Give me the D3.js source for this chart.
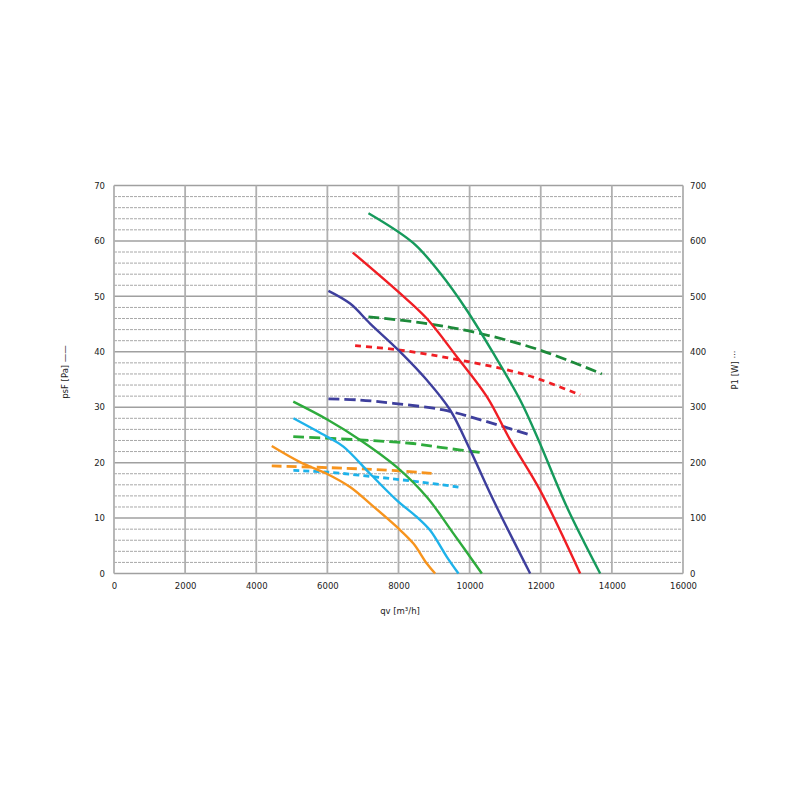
<!DOCTYPE html>
<html><head><meta charset="utf-8">
<script src="https://cdn.jsdelivr.net/npm/d3@7"></script>
<style>body{margin:0;background:#fff}svg{display:block}</style>
</head><body><svg id="c" width="800" height="800"></svg>
<script>
// Flow (m³/h) ticks and axes
const xTicks = [0,2000,4000,6000,8000,10000,12000,14000,16000];
const yLeftTicks = [0,10,20,30,40,50,60,70];
const yRightTicks = [0,100,200,300,400,500,600,700];

// Pressure curves psF [Pa] : [qv, psF]
const darkGreenP = [[7155,65.0],[8420,59.6],[9170,54.2],[9921,47.5],[10670,39.7],[11421,31.3],[11936,24.1],[12734,12.0],[13671,0]];
const redP = [[6714,57.9],[7998,50.8],[8796,46.0],[9640,39.1],[10484,31.9],[11140,24.1],[11983,15.0],[13108,0]];
const blueP = [[6029,51.0],[6639,48.7],[7201,45.1],[7998,40.3],[8796,34.9],[9452,29.5],[10015,22.3],[10670,13.2],[11702,0]];
const greenP = [[5041,31.0],[6019,27.7],[6920,24.1],[7953,19.2],[8796,13.8],[9546,7.2],[10343,0]];
const cyanP = [[5044,28.0],[5983,24.7],[6451,22.9],[7201,18.0],[7953,13.2],[8515,10.2],[8889,7.8],[9358,3.0],[9686,0]];
const orangeP = [[4436,23.0],[5232,20.1],[5983,18.0],[6639,15.6],[7201,12.6],[7953,8.4],[8420,5.4],[8796,1.8],[9030,0]];

// Power curves P1 [W] : [qv, P1]
const darkGreenW = [[7155,463],[8796,451],[10296,433],[11983,403],[13719,360]];
const redW = [[6780,411],[8045,403],[9733,385],[11608,358],[13108,322]];
const blueW = [[6029,315],[6920,313],[7857,307],[9264,295],[10484,274],[11702,250]];
const greenW = [[5041,247],[6920,241],[8327,235],[9358,226],[10343,218]];
const orangeW = [[4436,194],[6451,190],[8045,185],[9030,180]];
const cyanW = [[5044,186],[5983,183],[7389,174],[8608,165],[9686,156]];

const series = [
  {p:darkGreenP, w:darkGreenW, c:"#169a5c", cw:"#1d8a3a", dash:"11,5"},
  {p:redP, w:redW, c:"#f01e24", cw:"#f01e24", dash:"6,5"},
  {p:blueP, w:blueW, c:"#3e3f9d", cw:"#3e3f9d", dash:"11,5"},
  {p:greenP, w:greenW, c:"#2eab3c", cw:"#2eab3c", dash:"11,5"},
  {p:cyanP, w:cyanW, c:"#1eb2ea", cw:"#1eb2ea", dash:"6,4"},
  {p:orangeP, w:orangeW, c:"#f7941d", cw:"#f7941d", dash:"10,5"}
];

const L=114, R=683, T=185.5, B=573.5;
const svg = d3.select("#c");
const x = d3.scaleLinear().domain([0,16000]).range([L,R]);
const yL = d3.scaleLinear().domain([0,70]).range([B,T]);
const yR = d3.scaleLinear().domain([0,700]).range([B,T]);
const font = "'DejaVu Sans', Verdana, sans-serif";

// minor horizontal dashed grid (every 2 Pa)
const minor = d3.range(0,70.01,2).filter(v=>v%10!==0);
svg.append("g").selectAll("line").data(minor).join("line")
  .attr("x1",L).attr("x2",R).attr("y1",d=>yL(d)).attr("y2",d=>yL(d))
  .attr("stroke","#a8a8a8").attr("stroke-width",1).attr("stroke-dasharray","3,1");

// major grid
svg.append("g").selectAll("line").data(yLeftTicks).join("line")
  .attr("x1",L).attr("x2",R).attr("y1",d=>yL(d)).attr("y2",d=>yL(d))
  .attr("stroke","#a0a0a0").attr("stroke-width",1.5);
svg.append("g").selectAll("line").data(xTicks).join("line")
  .attr("x1",d=>x(d)).attr("x2",d=>x(d)).attr("y1",T).attr("y2",B)
  .attr("stroke","#b0b0b0").attr("stroke-width",1.8);

// axes (labels only)
const axB = svg.append("g").attr("transform",`translate(0,${B})`)
  .call(d3.axisBottom(x).tickValues(xTicks).tickSize(0).tickPadding(9).tickFormat(d3.format("d")));
const axL = svg.append("g").attr("transform",`translate(${L},0)`)
  .call(d3.axisLeft(yL).tickValues(yLeftTicks).tickSize(0).tickPadding(9));
const axR = svg.append("g").attr("transform",`translate(${R},0)`)
  .call(d3.axisRight(yR).tickValues(yRightTicks).tickSize(0).tickPadding(7));
[axB,axL,axR].forEach(a=>{
  a.select(".domain").remove();
  a.selectAll("text").attr("font-family",font).attr("font-size",8.5).attr("fill","#222");
});

// curves
const line = (ys)=>d3.line().x(d=>x(d[0])).y(d=>ys(d[1])).curve(d3.curveCatmullRom.alpha(0.5));
const g = svg.append("g").attr("fill","none");
series.forEach(s=>{
  g.append("path").attr("d",line(yR)(s.w)).attr("stroke",s.cw).attr("stroke-width",2.8)
    .attr("stroke-dasharray",s.dash);
});
series.forEach(s=>{
  g.append("path").attr("d",line(yL)(s.p)).attr("stroke",s.c).attr("stroke-width",2.4);
});

// titles
svg.append("text").attr("x",400).attr("y",614).attr("text-anchor","middle")
  .attr("font-family",font).attr("font-size",8.5).attr("fill","#222").text("qv [m³/h]");
svg.append("text").attr("transform","translate(68,372) rotate(-90)").attr("text-anchor","middle")
  .attr("font-family",font).attr("font-size",8.5).attr("fill","#222").text("psF [Pa] ——");
svg.append("text").attr("transform","translate(738,370) rotate(-90)").attr("text-anchor","middle")
  .attr("font-family",font).attr("font-size",8.5).attr("fill","#222").text("P1 [W] ···");
</script></body></html>
